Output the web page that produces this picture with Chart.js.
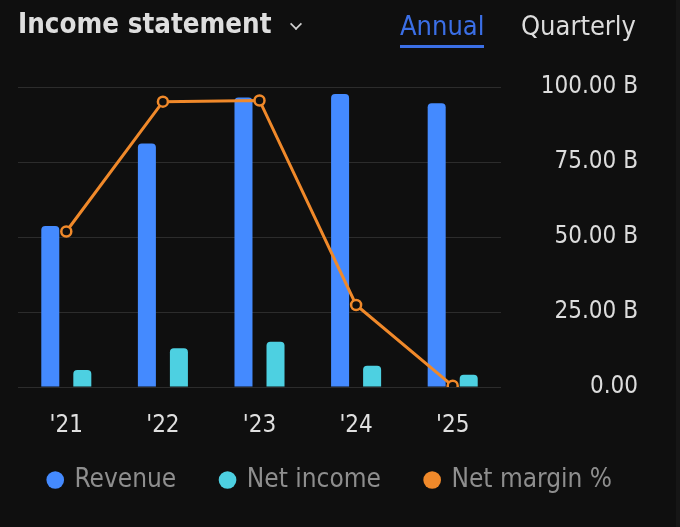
<!DOCTYPE html>
<html>
<head>
<meta charset="utf-8">
<script src="https://cdn.jsdelivr.net/npm/chart.js@4"></script>
<style>
  html, body {
    margin: 0;
    padding: 0;
    background: #0f0f0f;
    overflow: hidden;
    width: 680px;
    height: 527px;
  }
  .wrap {
    position: absolute;
    left: 0;
    top: 0;
    width: 680px;
    height: 527px;
  }
  .edge {
    position: absolute;
    right: 0;
    top: 0;
    width: 4px;
    height: 527px;
    background: #161616;
  }
  .head {
    position: absolute;
    left: 0;
    top: 0;
    width: 680px;
    height: 60px;
    font-family: "DejaVu Sans Condensed", "DejaVu Sans", sans-serif;
  }
  .title {
    position: absolute;
    left: 18px;
    top: 7px;
    font-size: 27.5px;
    font-weight: bold;
    color: #dedede;
  }
  .chev {
    position: absolute;
    left: 291px;
    top: 19px;
    width: 8px;
    height: 8px;
    border-right: 2px solid #d0d0d0;
    border-bottom: 2px solid #d0d0d0;
    transform: rotate(45deg) scale(0.85);
  }
  .tab {
    position: absolute;
    top: 10px;
    font-size: 27px;
  }
  .annual {
    left: 400px;
    color: #3b6fe6;
    padding-bottom: 4px;
    border-bottom: 3px solid #3b6fe6;
  }
  .quarterly {
    left: 521px;
    color: #dcdcdc;
  }
</style>
</head>
<body>
<div class="wrap"><canvas id="incomeChart"></canvas></div>
<div class="edge"></div>
<div class="head">
  <div class="title">Income statement</div>
  <div class="chev"></div>
  <div class="tab annual">Annual</div>
  <div class="tab quarterly">Quarterly</div>
</div>
<script>
const years = ["'21", "'22", "'23", "'24", "'25"];
const revenue = [53.7, 81.2, 96.5, 97.7, 94.6]; // billions
const netIncome = [5.7, 12.9, 15.1, 7.1, 4.1]; // billions
const netMargin = [10.6, 15.9, 15.95, 7.6, 4.3]; // percent
const yTicks = [0, 25, 50, 75, 100];

const FONT = "'DejaVu Sans Condensed', 'DejaVu Sans', sans-serif";

// x labels sit partly under the legend's top padding, so let them draw past the axis box
const labelRoom = {
  id: "labelRoom",
  afterLayout(chart) {
    chart.scales.x.bottom += 20;
  },
};

const ctx = document.getElementById("incomeChart").getContext("2d");

const incomeChart = new Chart(ctx, {
  type: "bar",
  data: {
    labels: years,
    datasets: [
      {
        label: "Revenue",
        data: revenue,
        yAxisID: "y",
        backgroundColor: "#448aff",
        borderRadius: 4,
        categoryPercentage: 0.663,
        barPercentage: 0.5625,
        order: 1,
      },
      {
        label: "Net income",
        data: netIncome,
        yAxisID: "y",
        backgroundColor: "#4dd0e1",
        borderRadius: 4,
        categoryPercentage: 0.663,
        barPercentage: 0.5625,
        order: 1,
      },
      {
        type: "line",
        label: "Net margin %",
        data: netMargin,
        yAxisID: "pct",
        borderColor: "#f0892a",
        backgroundColor: "#f0892a",
        borderWidth: 3,
        pointRadius: 5,
        pointBorderWidth: 2.5,
        pointBackgroundColor: "#0f0f0f",
        pointBorderColor: "#f0892a",
        tension: 0,
        order: 0,
      },
    ],
  },
  options: {
    responsive: true,
    maintainAspectRatio: false,
    animation: false,
    layout: {
      padding: { top: 87, right: 0, bottom: 24, left: 4 },
    },
    scales: {
      x: {
        grid: { display: false },
        border: { display: false },
        afterFit: (scale) => {
          scale.height = 35;
        },
        ticks: {
          color: "#e0e0e0",
          padding: 16,
          font: { family: FONT, size: 24 },
        },
      },
      y: {
        position: "right",
        min: 0,
        max: 100,
        afterBuildTicks: (scale) => {
          scale.ticks = yTicks.map((v) => ({ value: v }));
        },
        afterFit: (scale) => {
          scale.width = 137;
        },
        grid: {
          color: "#2c2c2c",
          lineWidth: 1,
          drawTicks: false,
        },
        border: { display: false },
        ticks: {
          color: "#dcdcdc",
          padding: 17,
          crossAlign: "far",
          font: { family: FONT, size: 24 },
          callback: (value) => (value === 0 ? "0.00" : value.toFixed(2) + " B"),
        },
      },
      edge: {
        type: "linear",
        position: "right",
        grid: { display: false, drawTicks: false },
        border: { display: false },
        ticks: { display: false },
        afterFit: (scale) => {
          scale.width = 42;
        },
      },
      pct: {
        position: "left",
        min: 4.25,
        max: 16.5,
        grid: { display: false, drawTicks: false },
        border: { display: false },
        ticks: { display: false },
        afterFit: (scale) => {
          scale.width = 14;
        },
      },
    },
    plugins: {
      legend: {
        display: true,
        position: "bottom",
        align: "start",
        labels: {
          usePointStyle: true,
          pointStyle: "circle",
          boxWidth: 12.5,
          boxHeight: 12.5,
          padding: 45,
          color: "#8e8e8e",
          font: { family: FONT, size: 26, lineHeight: 1 },
          sort: (a, b) => a.datasetIndex - b.datasetIndex,
          generateLabels: (chart) =>
            Chart.defaults.plugins.legend.labels.generateLabels(chart).map((item) => {
              const ds = chart.data.datasets[item.datasetIndex];
              item.fillStyle = ds.type === "line" ? ds.borderColor : ds.backgroundColor;
              item.lineWidth = 0;
              return item;
            }),
        },
      },
      tooltip: { enabled: false },
    },
  },
  plugins: [labelRoom],
});
</script>
</body>
</html>
